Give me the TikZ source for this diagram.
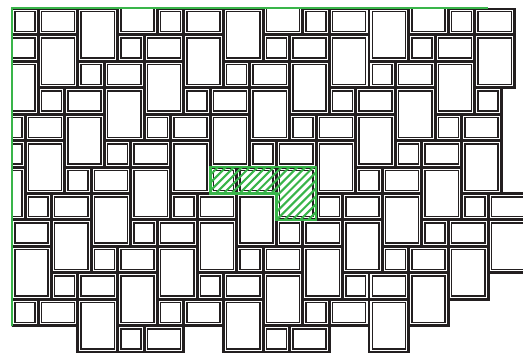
\documentclass[tikz,border=0pt]{standalone}
\usepackage{tikz}
\definecolor{wallgreen}{RGB}{57,181,74}
\definecolor{groutblack}{RGB}{35,31,32}
\tikzset{
  grout style/.style={fill=groutblack, draw=groutblack, line width=3.2pt},
  slab style/.style={fill=white, draw=groutblack, line width=1.6pt,
    double=white, double distance=1.1pt},
  wall style/.style={draw=wallgreen, line width=2.4pt},
  hatch style/.style={draw=wallgreen, line width=2.2pt},
  module style/.style={draw=wallgreen, line width=3pt, line join=miter}
}
\def\gap{0.151}
% one cell of black joint, and one paving slab set into it
\newcommand{\groutcell}[4]{\draw[grout style] (#1,#2) rectangle ({#1+#3},{#2+#4});}
\newcommand{\slab}[4]{\draw[slab style] ({#1+\gap},{#2+\gap}) rectangle ({#1+#3-\gap},{#2+#4-\gap});}
% big slab 3x4, small square 2x2 below it, long slab 3x2 beside that
\newcommand{\motif}[3]{#1{#2}{#3}{3}{4} #1{#2}{#3+4}{2}{2} #1{#2+2}{#3+4}{3}{2}}
\def\fullmotifs{0/-4, 11/-4, 22/-4, 33/-4, -3/-2, 8/-2, 19/-2, 30/-2,
  5/0, 16/0, 27/0, 2/2, 13/2, 24/2, -1/4, 10/4, 21/4, 32/4,
  -4/6, 7/6, 18/6, 29/6, 4/8, 15/8, 26/8, 1/10, 12/10, 23/10, 34/10,
  -2/12, 9/12, 20/12, 31/12, 6/14, 17/14, 28/14, 3/16, 14/16, 25/16,
  0/18, 11/18, 22/18, 8/20, 19/20}
\def\bigonly{36/16, 33/18, 30/20, 5/22, 16/22, 27/22}

\begin{document}
\begin{tikzpicture}[x=0.5cm, y=-0.5cm]
    \useasboundingbox (-0.892,-0.627) rectangle (38.64,25.98);

    \begin{scope}
      \clip (0,0) rectangle (38.64,25.98);
      % Joints
      \foreach \a/\b in \fullmotifs {\motif\groutcell{\a}{\b}}
      \foreach \a/\b in \bigonly {\groutcell{\a}{\b}{3}{4}}
      \groutcell{35}{2}{3}{4} \groutcell{35}{6}{2}{2}

      % Slabs
      \foreach \a/\b in \fullmotifs {\motif\slab{\a}{\b}}
      \foreach \a/\b in \bigonly {\slab{\a}{\b}{3}{4}}
      \slab{35}{2}{3}{4} \slab{35}{6}{2}{2}
    \end{scope}

    % Repeating unit
    \begin{scope}
      \clip (15,12) -| (23,16) -| (20,14) -| cycle;
      \foreach \i in {11,11.6,...,23} {
        \draw[hatch style] (\i,16) -- ++(4,-4);
      }
    \end{scope}
    \draw[module style] (15,12) -| (23,16) -| (20,14) -| cycle;

    % Walls
    \draw[wall style] (0,24) -- (0,0) -- (36,0);
\end{tikzpicture}
\end{document}
